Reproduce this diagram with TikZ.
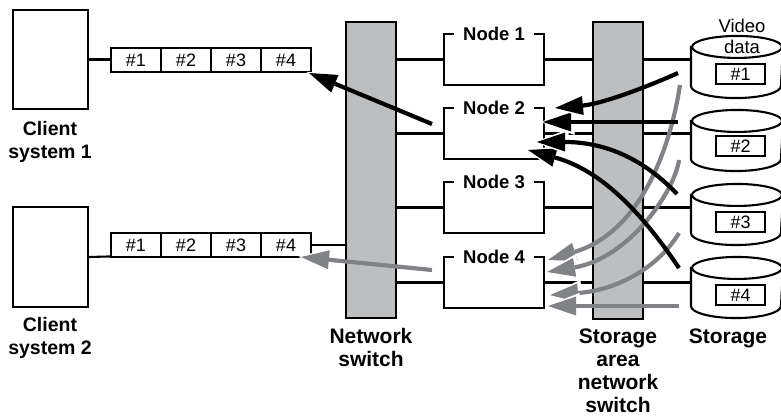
\documentclass[tikz,border=0pt]{standalone}
\usepackage{fontspec}
\setmainfont{Liberation Sans}
\usetikzlibrary{arrows.meta}
\definecolor{swgray}{HTML}{BCBEC0}
\definecolor{argray}{HTML}{808285}
\begin{document}
\begin{tikzpicture}[x=1pt,y=-1pt,line width=2.1pt,
  every node/.style={inner sep=0pt},
  plain/.style={draw, line width=2.1pt},
  frame/.style={draw, fill=white, line width=2.1pt},
  cell/.style={draw, fill=white, line width=1.9pt, minimum width=50pt, minimum height=24pt, font=\fontsize{18}{20}\selectfont},
  switchbar/.style={draw, fill=swgray, line width=2.1pt, minimum width=50pt},
  nodearea/.style={minimum width=98pt, minimum height=49pt},
  nodelabel/.style={anchor=base, font=\bfseries\fontsize{18.5}{23}\selectfont},
  clientcap/.style={anchor=north, align=center, font=\bfseries\fontsize{19.5}{23}\selectfont},
  caption/.style={anchor=north, align=center, font=\bfseries\fontsize{21}{23}\selectfont},
  diskarea/.style={minimum width=90pt},
  disklabel/.style={draw, fill=white, line width=1.9pt, minimum width=49pt, minimum height=20pt, font=\fontsize{18}{20}\selectfont},
  halo/.style={draw=white, line width=0.2pt, shorten >=-2.5pt, -{Triangle[length=34pt,width=26pt,line width=0pt]}},
  blackarrow/.style={draw=black, line width=4.2pt, -{Triangle[length=28pt,width=19pt,line width=0pt]}},
  grayarrow/.style={draw=argray, line width=4.2pt, -{Triangle[length=28pt,width=19pt,line width=0pt]}}
]
\useasboundingbox (0,0) rectangle (781,417);

% invisible areas for compute nodes and disks
\node[nodearea] (n1) at (494,59.5) {};
\node[nodearea] (n2) at (494,133.5) {};
\node[nodearea] (n3) at (494,207.5) {};
\node[nodearea] (n4) at (494,282.5) {};
\node[diskarea, minimum height=37pt] (d1) at (737,66.5) {};
\node[diskarea, minimum height=36pt] (d2) at (737,140) {};
\node[diskarea, minimum height=36pt] (d3) at (737,214) {};
\node[diskarea, minimum height=36pt] (d4) at (737,287) {};

% node -> storage lines (pass under the SAN switch)
\foreach \i in {1,2,3,4} {
  \draw[plain] (n\i.east) -- (n\i.east -| d\i.west);
}

% switches
\node[switchbar, minimum height=296pt] (ns) at (371,170) {};
\node[switchbar, minimum height=297pt] (san) at (618,170.5) {};

% network switch -> nodes
\foreach \i in {1,2,3,4} {
  \draw[plain] (n\i.west -| ns.east) -- (n\i.west);
  \draw[plain] ([xshift=10pt]n\i.north west) -- (n\i.north west) -- (n\i.south west)
     -- (n\i.south east) -- (n\i.north east) -- ([xshift=-10pt]n\i.north east);
  \node[nodelabel] at ([yshift=-7pt]n\i.north) {Node \i};
}

% disks
\foreach \i in {1,2,3,4} {
  \draw[plain, fill=white] (d\i.north west) -- (d\i.south west)
     arc[start angle=180, end angle=360, x radius=45pt, y radius=12pt]
     -- (d\i.north east) -- cycle;
  \draw[plain, fill=white] (d\i.north) ellipse[x radius=45pt, y radius=11pt];
}
\node[disklabel] (l1) at (740.5,74) {\#1};
\node[disklabel] (l2) at (740.5,146) {\#2};
\node[disklabel] (l3) at (740.5,222) {\#3};
\node[disklabel] (l4) at (740.5,295) {\#4};
\node[anchor=north, align=center, font=\fontsize{18.5}{21}\selectfont] (vd) at (742,18.5) {Video\\data};

% clients and packet strips
\node[frame, minimum width=75pt, minimum height=99pt] (cl1) at (50.5,59.5) {};
\node[frame, minimum width=75pt, minimum height=100pt] (cl2) at (50.5,257) {};
\foreach \k/\x in {1/136,2/186,3/236,4/286} {
  \node[cell] (p1\k) at (\x,60) {\#\k};
  \node[cell] (p2\k) at (\x,245) {\#\k};
}
\draw[plain] (cl1.east) -- (cl1.east -| p11.west);
\draw[plain] (cl2.east) -- ([yshift=1.5pt]p21.south west);
\draw[plain] (p24.east) -- (p24.east -| ns.west);

% captions
\node[clientcap] (c1) at (50,120.8) {Client\\system 1};
\node[clientcap] (c2) at (50,316.8) {Client\\system 2};
\node[caption] (c3) at (371,327.7) {Network\\switch};
\node[caption] (c4) at (618,327.7) {Storage\\area\\network\\switch};
\node[caption] (c5) at (728,327.7) {Storage};

% arrow end points
\coordinate (b1s) at (432,124); \coordinate (b1e) at (309,73);
\coordinate (b2s) at (678,73);  \coordinate (b2e) at (555,108);
\coordinate (b3s) at (678,122); \coordinate (b3e) at (543,122);
\coordinate (b4s) at (677,194); \coordinate (b4e) at (537,142);
\coordinate (b5s) at (679,268); \coordinate (b5e) at (528,150);
\coordinate (g1s) at (680,85);  \coordinate (g1e) at (548,260);
\coordinate (g2s) at (679,160); \coordinate (g2e) at (547,272);
\coordinate (g3s) at (679,233); \coordinate (g3e) at (550,295);
\coordinate (g4s) at (679,306); \coordinate (g4e) at (548,306);
\coordinate (g5s) at (432,270); \coordinate (g5e) at (301,257);

% gray arrows
\draw[halo] (g1s) .. controls (670,150) and (640,232) .. (g1e);
\draw[grayarrow] (g1s) .. controls (670,150) and (640,232) .. (g1e);
\draw[halo] (g2s) .. controls (675,190) and (630,258) .. (g2e);
\draw[grayarrow] (g2s) .. controls (675,190) and (630,258) .. (g2e);
\draw[halo] (g3s) .. controls (660,265) and (620,290) .. (g3e);
\draw[grayarrow] (g3s) .. controls (660,265) and (620,290) .. (g3e);
\draw[halo] (g4s) -- (g4e);
\draw[grayarrow] (g4s) -- (g4e);
\draw[halo] (g5s) -- (g5e);
\draw[grayarrow] (g5s) -- (g5e);

% black arrows
\draw[halo] (b1s) -- (b1e);
\draw[blackarrow] (b1s) -- (b1e);
\draw[halo] (b5s) .. controls (640,210) and (600,170) .. (b5e);
\draw[blackarrow] (b5s) .. controls (640,210) and (600,170) .. (b5e);
\draw[halo] (b4s) .. controls (640,155) and (600,142) .. (b4e);
\draw[blackarrow] (b4s) .. controls (640,155) and (600,142) .. (b4e);
\draw[halo] (b3s) -- (b3e);
\draw[blackarrow] (b3s) -- (b3e);
\draw[halo] (b2s) .. controls (640,90) and (600,104) .. (b2e);
\draw[blackarrow] (b2s) .. controls (640,90) and (600,104) .. (b2e);
\end{tikzpicture}
\end{document}
